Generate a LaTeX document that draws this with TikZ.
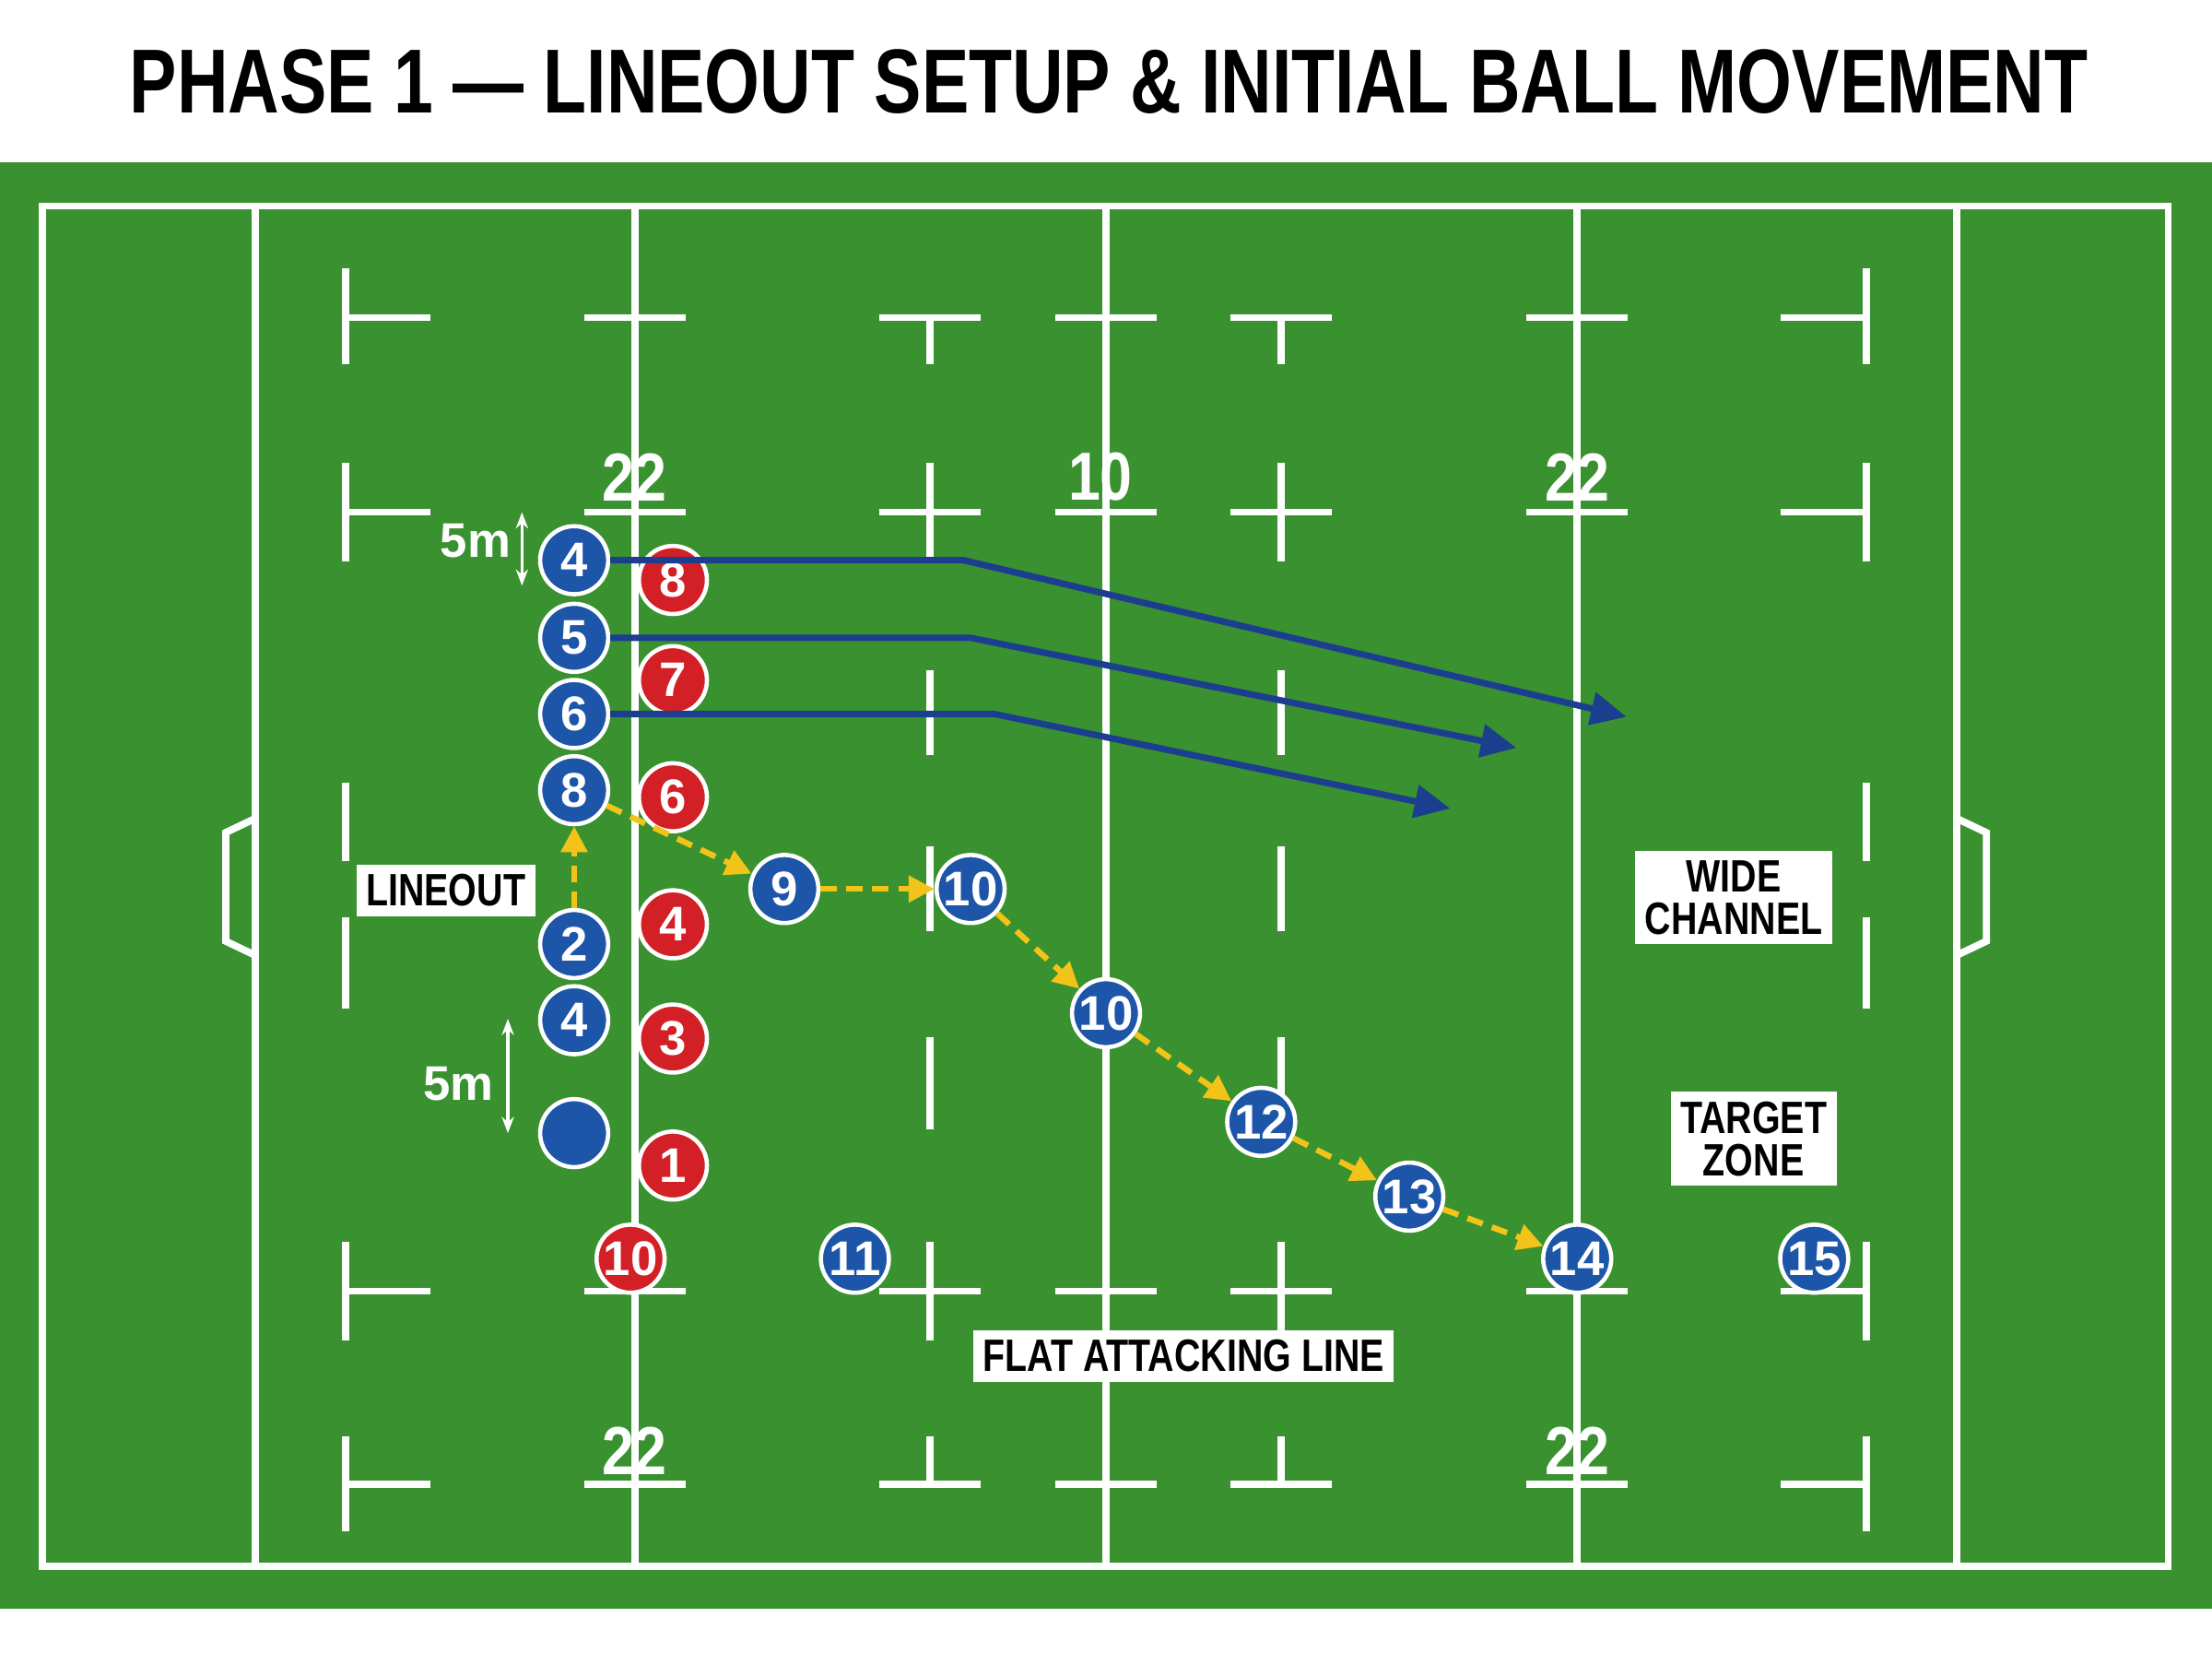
\documentclass[tikz,border=0pt]{standalone}
\usepackage{fontspec}
\setmainfont{Liberation Sans}
\usetikzlibrary{arrows.meta}
\definecolor{pitch}{HTML}{3A9130}
\definecolor{bluep}{HTML}{1D55A8}
\definecolor{redp}{HTML}{D32026}
\definecolor{runblue}{HTML}{1B3F8E}
\definecolor{pass}{HTML}{F2C318}
\tikzset{
  line/.style={white, line width=2.2pt},
  blue/.style={circle, draw=white, line width=1.3pt, fill=bluep, minimum size=21pt, inner sep=0pt, text=white, font=\bfseries\fontsize{15}{15}\selectfont},
  red/.style={blue, fill=redp},
  lab/.style={fill=white, inner sep=3pt, align=center, font=\bfseries\fontsize{14}{15}\selectfont},
  num/.style={white, font=\bfseries\fontsize{21}{21}\selectfont},
  run/.style={runblue, line width=2pt, -{Triangle[length=11pt,width=10pt]}},
  pas/.style={pass, line width=1.8pt, dash pattern=on 5pt off 3pt, -{Triangle[length=8pt,width=8pt]}},
  measure/.style={white, line width=1pt, {Stealth[length=5pt]}-{Stealth[length=5pt]}}
}
\begin{document}
\begin{tikzpicture}[x=0.015306cm, y=-0.015306cm]
\useasboundingbox (0,0) rectangle (1568,1171);
\fill[white] (0,0) rectangle (1568,1171);
\fill[pitch] (0,115) rectangle (1568,1140);
\node (title) at (786,58) {\resizebox{1388\dimexpr0.4355pt\relax}{!}{\bfseries\scalebox{0.78}[1]{PHASE 1 — LINEOUT SETUP \& INITIAL BALL MOVEMENT}}};
% the pitch
\draw[line] (30,146) rectangle (1537,1110);
\foreach \x in {181,450,784,1118,1387}
  \draw[line] (\x,146) -- (\x,1110);
\draw[line] (181,580) -- (160,590) -- (160,667) -- (181,677);
\draw[line] (1387,580) -- (1408,590) -- (1408,667) -- (1387,677);
%     dash lines
\foreach \x in {245,1323}{
  \foreach \a/\b in {190/258,328/398,555/610,650/715,880/950,1018/1085}
    \draw[line] (\x,\a) -- (\x,\b);}
\foreach \x in {659,908}{
  \foreach \a/\b in {225/258,328/398,475/535,600/660,735/800,880/950,1018/1052}
    \draw[line] (\x,\a) -- (\x,\b);}
%     ticks
\foreach \y in {225,363,915,1052}{
  \draw[line] (245,\y) -- (305,\y);
  \draw[line] (1262,\y) -- (1323,\y);
  \foreach \x in {450,659,784,908,1118}
    \draw[line] (\x-36,\y) -- (\x+36,\y);}
\node[num] (n1) at (450,338) {\scalebox{0.85}[1]{22}};
\node[num] (n2) at (780,338) {\scalebox{0.85}[1]{10}};
\node[num] (n3) at (1118,338) {\scalebox{0.85}[1]{22}};
\node[num] (n4) at (450,1028) {\scalebox{0.85}[1]{22}};
\node[num] (n5) at (1118,1028) {\scalebox{0.85}[1]{22}};
% players
\node[blue] (b4) at (407,397) {4};
\node[blue] (b5) at (407,452) {5};
\node[blue] (b6) at (407,506) {6};
\node[blue] (b8) at (407,560) {8};
\node[blue] (b2) at (407,669) {2};
\node[blue] (b4b) at (407,723) {4};
\node[blue] (bx) at (407,803) {};
\node[blue] (b9) at (556,630) {9};
\node[blue] (b10) at (688,630) {10};
\node[blue] (b10b) at (784,718) {10};
\node[blue] (b12) at (894,795) {12};
\node[blue] (b13) at (999,848) {13};
\node[blue] (b14) at (1118,892) {14};
\node[blue] (b15) at (1286,892) {15};
\node[blue] (b11) at (606,892) {11};
\node[red] (r8) at (477,411) {8};
\node[red] (r7) at (477,482) {7};
\node[red] (r6) at (477,565) {6};
\node[red] (r4) at (477,655) {4};
\node[red] (r3) at (477,736) {3};
\node[red] (r1) at (477,826) {1};
\node[red] (r10) at (447,892) {10};
% runs
\coordinate (k1) at (683,397);
\coordinate (e1) at (1153,508);
\coordinate (k2) at (688,452);
\coordinate (e2) at (1075,530);
\coordinate (k3) at (705,506);
\coordinate (e3) at (1028,573);
\draw[run] (b4) -- (k1) -- (e1);
\draw[run] (b5) -- (k2) -- (e2);
\draw[run] (b6) -- (k3) -- (e3);
% passes
\draw[pas] (b2) -- (b8);
\draw[pas] (b8) -- (b9);
\draw[pas] (b9) -- (b10);
\draw[pas] (b10) -- (b10b);
\draw[pas] (b10b) -- (b12);
\draw[pas] (b12) -- (b13);
\draw[pas] (b13) -- (b14);
% 5m marks
\coordinate (m1) at (370,363);
\coordinate (m2) at (370,415);
\draw[measure] (m1) -- (m2);
\node[num, font=\bfseries\fontsize{15}{15}\selectfont] (f1) at (337,383) {5m};
\coordinate (m3) at (360,722);
\coordinate (m4) at (360,803);
\draw[measure] (m3) -- (m4);
\node[num, font=\bfseries\fontsize{15}{15}\selectfont] (f2) at (325,768) {5m};
% labels
\node[lab] (lineout) at (316,631) {\scalebox{0.8}[1]{LINEOUT}};
\node[lab] (wide) at (1229,636) {\scalebox{0.8}[1]{WIDE}\\[-2pt]\scalebox{0.8}[1]{CHANNEL}};
\node[lab] (target) at (1243,807) {\scalebox{0.8}[1]{TARGET}\\[-2pt]\scalebox{0.8}[1]{ZONE}};
\node[lab] (flat) at (839,961) {\scalebox{0.8}[1]{FLAT ATTACKING LINE}};
\end{tikzpicture}
\end{document}
